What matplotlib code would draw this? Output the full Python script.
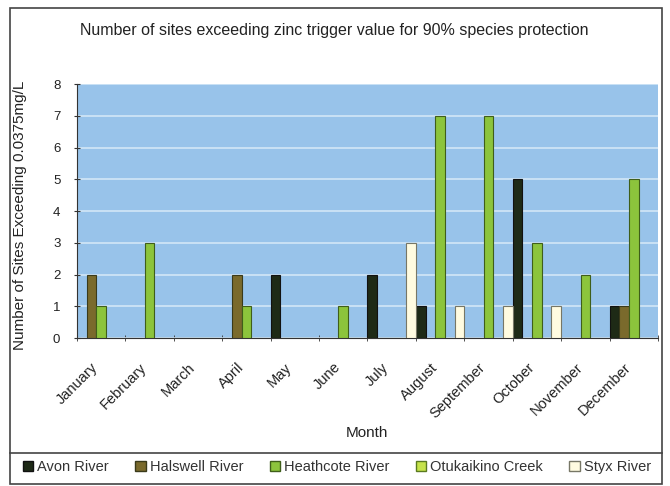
import matplotlib
matplotlib.use('Agg')
import matplotlib.pyplot as plt
import matplotlib.transforms as mtransforms
import numpy as np
from matplotlib.patches import Rectangle
from matplotlib.lines import Line2D

plt.rcParams['font.family'] = ['Liberation Sans', 'DejaVu Sans']

months = ['January', 'February', 'March', 'April', 'May', 'June', 'July',
          'August', 'September', 'October', 'November', 'December']
series_names = ['Avon River', 'Halswell River', 'Heathcote River',
                'Otukaikino Creek', 'Styx River']
avon = [0, 0, 0, 0, 2, 0, 2, 1, 0, 5, 0, 1]
halswell = [2, 0, 0, 2, 0, 0, 0, 0, 0, 0, 0, 1]
heathcote = [1, 3, 0, 1, 0, 1, 0, 7, 7, 3, 2, 5]
otukaikino = [0, 0, 0, 0, 0, 0, 0, 0, 0, 0, 0, 0]
styx = [0, 0, 0, 0, 0, 0, 3, 1, 1, 1, 0, 0]

colors = ['#1e2a16', '#7a6a2c', '#8cc43c', '#c6e34a', '#fffbe0']
edges = ['#111111', '#3a3a1a', '#3f5e1a', '#5a7a20', '#777766']

W, H = 670, 486
fig = plt.figure(figsize=(6.7, 4.86), dpi=100)
ax = fig.add_axes([77 / W, 1 - 338 / H, 581 / W, 254 / H])
ax.set_facecolor('#98c3ea')

x = np.arange(len(months))
bw = 0.2
data = [avon, halswell, heathcote, otukaikino, styx]
for i, vals in enumerate(data):
    ax.bar(x + (i - 2) * bw, vals, width=bw, color=colors[i],
           edgecolor=edges[i], linewidth=0.8, zorder=3)

ax.set_xlim(-0.5, 11.5)
ax.set_ylim(0, 8)
ax.set_yticks(range(0, 9))
ax.yaxis.grid(True, color='#d2e6f7', linewidth=1.2, zorder=1)
ax.set_axisbelow(True)
ax.set_xticks(x)
ax.set_xticklabels(months, rotation=45, ha='right', rotation_mode='anchor',
                   fontsize=10.5, color='#222222')
ax.tick_params(axis='x', which='major', length=0, pad=16)
# shift month labels a little to the left, like the original
shift = mtransforms.ScaledTranslation(-10 / 100, 0, fig.dpi_scale_trans)
for lbl in ax.get_xticklabels():
    lbl.set_transform(lbl.get_transform() + shift)
ax.set_xticks(np.arange(-0.5, 12, 1), minor=True)
ax.tick_params(axis='x', which='minor', length=4, direction='inout',
               color='#333333')
ax.tick_params(axis='y', length=4, direction='inout', color='#333333',
               labelsize=9.5, labelcolor='#222222', pad=10)
for s in ['top', 'right']:
    ax.spines[s].set_visible(False)
ax.spines['left'].set_color('#333333')
ax.spines['bottom'].set_color('#333333')

fig.text(367 / W, 1 - 433 / H, 'Month', ha='center', va='center',
         fontsize=11, color='#222222')
fig.text(20 / W, 1 - 215 / H, 'Number of Sites Exceeding 0.0375mg/L',
         rotation=90, ha='center', va='center', fontsize=11, color='#222222')
fig.text(334 / W, 1 - 30 / H,
         'Number of sites exceeding zinc trigger value for 90% species protection',
         ha='center', va='center', fontsize=11.5, color='#222222')

# outer chart border and legend box
fig.patches.append(Rectangle((10 / W, 2 / H), 652 / W, 476 / H,
                             transform=fig.transFigure, fill=False,
                             edgecolor='#444444', linewidth=1.2))
fig.lines.append(Line2D([10 / W, 662 / W], [1 - 453 / H, 1 - 453 / H],
                        transform=fig.transFigure, color='#444444',
                        linewidth=1.2))

handles = [Rectangle((0, 0), 1, 1, facecolor=colors[i], edgecolor=edges[i])
           for i in range(5)]
fig.legend(handles, series_names, loc='center', ncol=5,
           bbox_to_anchor=(337 / W, 1 - 467 / H), frameon=False,
           fontsize=10.5, handlelength=0.7, handleheight=0.7,
           handletextpad=0.3, columnspacing=1.8, labelcolor='#333333')

fig.savefig('out.png', dpi=100)
